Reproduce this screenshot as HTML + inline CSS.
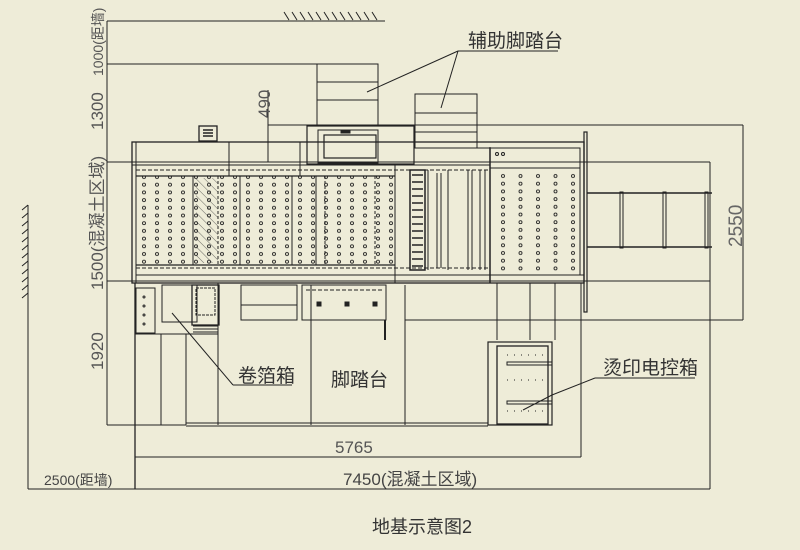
<!DOCTYPE html>
<html><head><meta charset="utf-8"><style>
html,body{margin:0;padding:0;background:#eeecd8;}
svg{display:block}
text{font-family:"Liberation Sans","Noto Sans CJK SC",sans-serif;fill:#333;}
</style></head><body>
<svg width="800" height="550" viewBox="0 0 800 550" xmlns="http://www.w3.org/2000/svg">
<defs>
<pattern id="dots" x="140" y="174" width="13" height="7.7" patternUnits="userSpaceOnUse">
<circle cx="4" cy="3" r="1.5" fill="none" stroke="#222" stroke-width="0.9"/>
</pattern>
<pattern id="dots2" x="497" y="173" width="17.5" height="7.7" patternUnits="userSpaceOnUse">
<circle cx="6" cy="3" r="1.5" fill="none" stroke="#222" stroke-width="0.9"/>
</pattern>
<pattern id="hatch" width="6" height="6" patternUnits="userSpaceOnUse" patternTransform="rotate(-45)">
<line x1="0" y1="0" x2="0" y2="6" stroke="#333" stroke-width="1"/>
</pattern>
</defs>
<rect width="800" height="550" fill="#eeecd8"/>
<g stroke="#222" fill="none" stroke-width="1">
<!-- wall hatch top -->
<path d="M284 12l5 8M292 12l5 8M300 12l5 8M308 12l5 8M316 12l5 8M324 12l5 8M332 12l5 8M340 12l5 8M348 12l5 8M356 12l5 8M364 12l5 8M372 12l5 8"/>
<line x1="107" y1="21" x2="385" y2="21"/>
<!-- left wall hatch -->
<path d="M22 210l6-5M22 218l6-5M22 226l6-5M22 234l6-5M22 242l6-5M22 250l6-5M22 258l6-5M22 266l6-5M22 274l6-5M22 282l6-5M22 290l6-5M22 298l6-5"/>
<line x1="28" y1="205" x2="28" y2="489"/>
<!-- dimension lines -->
<line x1="107" y1="21" x2="107" y2="425"/>
<line x1="107" y1="64" x2="317" y2="64"/>
<line x1="107" y1="162" x2="710" y2="162"/>
<line x1="107" y1="281" x2="710" y2="281"/>
<line x1="107" y1="425" x2="186" y2="425"/>
<line x1="268" y1="90" x2="268" y2="162"/>
<line x1="268" y1="125" x2="743" y2="125"/>
<line x1="743" y1="125" x2="743" y2="320"/>
<line x1="581" y1="320" x2="743" y2="320"/>
<line x1="405" y1="320" x2="581" y2="320"/>
<line x1="710" y1="162" x2="710" y2="489"/>
<line x1="581" y1="283" x2="581" y2="457"/>
<line x1="135" y1="457" x2="581" y2="457"/>
<line x1="28" y1="489" x2="710" y2="489"/>
<line x1="135" y1="283" x2="135" y2="489" stroke-width="1.3"/>
<!-- aux step stacks -->
<rect x="317" y="64" width="61" height="62"/>
<line x1="317" y1="82" x2="378" y2="82"/><line x1="317" y1="100" x2="378" y2="100"/>
<rect x="415" y="94" width="62" height="54"/>
<line x1="415" y1="113" x2="477" y2="113"/><line x1="415" y1="132" x2="477" y2="132"/>
<path d="M477 148h13v-1"/>
<!-- leaders aux -->
<line x1="458" y1="51" x2="558" y2="51"/>
<line x1="458" y1="51" x2="367" y2="92"/>
<line x1="458" y1="51" x2="441" y2="108"/>
<!-- control box -->
<rect x="307" y="126" width="107" height="38" stroke-width="1.2"/>
<rect x="318" y="130" width="60" height="33"/>
<rect x="324" y="135" width="52" height="23" stroke-width="1.2"/>
<rect x="341" y="131" width="9" height="2" fill="#222"/>
<!-- small box top-left -->
<rect x="199" y="126" width="18" height="15" stroke-width="1.3"/>
<path d="M203 130h10M203 133h10M203 136h10" stroke-width="1.5"/>
<!-- main frame -->
<rect x="132" y="142" width="452" height="141" stroke-width="1.3"/>
<line x1="136" y1="142" x2="136" y2="283"/>
<line x1="132" y1="165" x2="490" y2="165"/>
<line x1="136" y1="170" x2="490" y2="170" stroke-dasharray="4 2"/>
<line x1="136" y1="176" x2="395" y2="176" stroke-width="1.3"/>
<line x1="136" y1="265" x2="395" y2="265" stroke-width="1.3"/>
<line x1="136" y1="268" x2="490" y2="268" stroke-dasharray="4 2"/>
<line x1="136" y1="275" x2="584" y2="275"/>
<line x1="229" y1="142" x2="229" y2="176"/>
<line x1="300" y1="142" x2="300" y2="176"/>
<rect x="140" y="176" width="255" height="89" fill="url(#dots)" stroke="none"/>
<line x1="193" y1="176" x2="193" y2="265"/>
<line x1="218" y1="176" x2="218" y2="265" stroke-dasharray="3 2"/>
<line x1="240" y1="176" x2="240" y2="265"/>
<line x1="292" y1="176" x2="292" y2="265"/>
<line x1="316" y1="176" x2="316" y2="265"/>
<line x1="325" y1="176" x2="325" y2="265" stroke-dasharray="3 2"/>
<line x1="375" y1="176" x2="375" y2="265" stroke-dasharray="3 2"/>
<rect x="196" y="178" width="22" height="85" fill="url(#hatch)" stroke="none" opacity="0.7"/>
<!-- rollers section -->
<rect x="410" y="170" width="15" height="100" stroke-width="1.5"/>
<path d="M412 175h11M412 182h11M412 189h11M412 196h11M412 203h11M412 210h11M412 217h11M412 224h11M412 231h11M412 238h11M412 245h11M412 252h11M412 259h11M412 266h11" stroke-width="1.5"/>
<line x1="395" y1="165" x2="395" y2="283"/>
<line x1="428" y1="170" x2="428" y2="270"/>
<line x1="437" y1="173" x2="437" y2="268"/><line x1="441" y1="173" x2="441" y2="268"/>
<line x1="448" y1="170" x2="448" y2="270"/>
<line x1="468" y1="170" x2="468" y2="270"/><line x1="472" y1="170" x2="472" y2="270"/>
<line x1="480" y1="170" x2="480" y2="270"/><line x1="485" y1="170" x2="485" y2="270"/>
<line x1="490" y1="148" x2="490" y2="283" stroke-width="1.5"/>
<rect x="490" y="148" width="90" height="127"/>
<line x1="490" y1="168" x2="580" y2="168"/>
<rect x="497" y="172" width="83" height="100" fill="url(#dots2)" stroke="none"/>
<circle cx="497" cy="154" r="1.5"/><circle cx="503" cy="154" r="1.5"/>
<!-- right plate and conveyor -->
<rect x="584" y="132" width="3" height="180" stroke-width="1.2"/>
<line x1="587" y1="193" x2="712" y2="193" stroke-width="1.5"/>
<line x1="587" y1="247" x2="712" y2="247" stroke-width="1.5"/>
<rect x="620" y="192" width="3" height="56"/>
<rect x="663" y="192" width="3" height="56"/>
<rect x="705" y="192" width="3" height="56"/>
<!-- lower region -->
<rect x="136" y="288" width="19" height="45"/>
<circle cx="144" cy="297" r="1"/><circle cx="144" cy="306" r="1"/><circle cx="144" cy="315" r="1"/><circle cx="144" cy="324" r="1"/>
<line x1="135" y1="334" x2="218" y2="334"/>
<line x1="161" y1="334" x2="161" y2="425"/>
<line x1="186" y1="334" x2="186" y2="425"/>
<line x1="218" y1="283" x2="218" y2="425"/>
<rect x="162" y="285" width="35" height="37"/>
<rect x="192" y="285" width="27" height="40" stroke-width="1.3"/>
<rect x="196" y="288" width="19" height="27" stroke-dasharray="3 1"/>
<path d="M193 326h25M193 329h25M193 332h25"/>
<rect x="241" y="285" width="56" height="35"/>
<line x1="241" y1="305" x2="297" y2="305"/>
<rect x="302" y="285" width="84" height="35"/>
<line x1="306" y1="290" x2="383" y2="290" stroke-dasharray="4 2"/>
<line x1="311" y1="285" x2="311" y2="425"/>
<line x1="311" y1="290" x2="311" y2="338" stroke-dasharray="3 2"/>
<rect x="317" y="302" width="4" height="4" fill="#222"/><rect x="345" y="302" width="4" height="4" fill="#222"/><rect x="373" y="302" width="4" height="4" fill="#222"/>
<line x1="385" y1="320" x2="385" y2="340" stroke-width="2"/>
<line x1="405" y1="285" x2="405" y2="425"/>
<line x1="497" y1="283" x2="497" y2="340"/><line x1="530" y1="283" x2="530" y2="340"/><line x1="555" y1="283" x2="555" y2="340"/>
<line x1="186" y1="423" x2="488" y2="423"/>
<line x1="186" y1="426" x2="488" y2="426"/>
<rect x="488" y="342" width="64" height="83" stroke-width="1.2"/>
<rect x="497" y="346" width="51" height="78" stroke-width="1.3"/>
<rect x="507" y="362" width="45" height="3"/>
<rect x="507" y="401" width="45" height="3"/>
<path d="M507 355h40M507 380h40M507 411h40" stroke-dasharray="1 6"/>
<!-- leaders lower -->
<line x1="233" y1="385" x2="292" y2="385"/>
<line x1="233" y1="385" x2="172" y2="313"/>
<line x1="595" y1="378" x2="695" y2="378"/>
<line x1="595" y1="378" x2="552" y2="395"/>
<line x1="552" y1="395" x2="523" y2="410"/>
</g>
<!-- texts -->
<text x="468" y="47" font-size="19">辅助脚踏台</text>
<text transform="translate(270,118) rotate(-90)" font-size="17" style="fill:#555">490</text>
<text transform="translate(103,76) rotate(-90)" font-size="14" style="fill:#555">1000(距墙)</text>
<text transform="translate(103,130) rotate(-90)" font-size="17" style="fill:#555">1300</text>
<text transform="translate(103,290) rotate(-90)" font-size="17" style="fill:#555">1500(混凝土区域)</text>
<text transform="translate(103,370) rotate(-90)" font-size="17" style="fill:#555">1920</text>
<text transform="translate(742,247) rotate(-90)" font-size="19" style="fill:#666">2550</text>
<text x="238" y="382" font-size="19">卷箔箱</text>
<text x="331" y="386" font-size="19">脚踏台</text>
<text x="603" y="374" font-size="19">烫印电控箱</text>
<text x="335" y="453" font-size="17" style="fill:#555">5765</text>
<text x="343" y="485" font-size="17" style="fill:#444">7450(混凝土区域)</text>
<text x="44" y="485" font-size="14" style="fill:#444">2500(距墙)</text>
<text x="372" y="533" font-size="18">地基示意图2</text>
</svg>
</body></html>
